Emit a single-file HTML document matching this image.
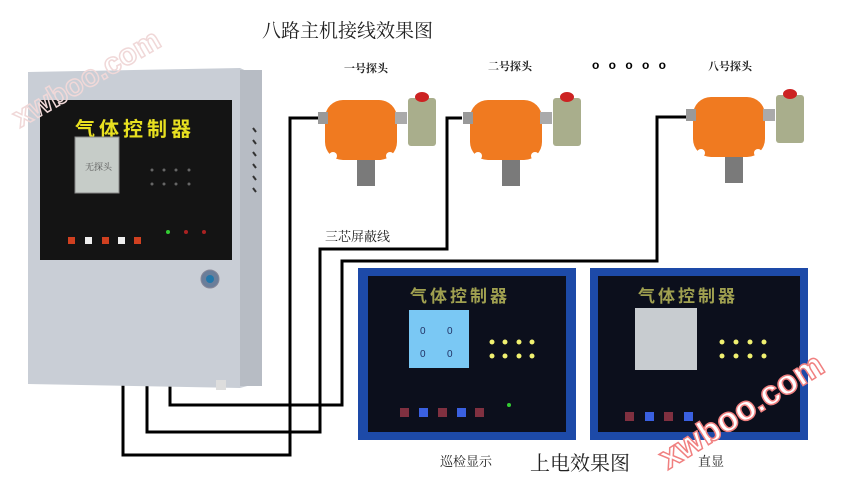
<!DOCTYPE html>
<html><head><meta charset="utf-8"><style>
body{margin:0;width:850px;height:480px;background:#fff;position:relative;overflow:hidden;font-family:"Liberation Sans","Noto Sans CJK SC",sans-serif}
.a{position:absolute}
.t{font-family:"Liberation Serif","Noto Serif CJK SC",serif;color:#222}
</style></head><body>
<div class="a t" style="left:262px;top:16px;font-size:19px">八路主机接线效果图</div>
<div class="a t" style="left:344px;top:60px;font-size:11px;font-weight:bold">一号探头</div>
<div class="a t" style="left:488px;top:58px;font-size:11px;font-weight:bold">二号探头</div>
<div class="a" style="left:592px;top:58px;font-size:12px;font-weight:bold;letter-spacing:3px">o o o o o</div>
<div class="a t" style="left:708px;top:58px;font-size:11px;font-weight:bold">八号探头</div>
<div class="a t" style="left:325px;top:226px;font-size:13px">三芯屏蔽线</div>
<div class="a t" style="left:440px;top:451px;font-size:13px">巡检显示</div>
<div class="a t" style="left:530px;top:447px;font-size:20px">上电效果图</div>
<div class="a t" style="left:698px;top:451px;font-size:13px">直显</div>

<svg class="a" style="left:0;top:0" width="850" height="480">
<g fill="none" stroke="#000" stroke-width="3">
<polyline points="123,380 123,455 290,455 290,118 318,118"/>
<polyline points="147,380 147,432 320,432 320,249 447,249 447,118 462,118"/>
<polyline points="170,380 170,405 342,405 342,261 657,261 657,117 690,117"/>
</g>
<!-- controller -->
<polygon points="28,72 240,68 262,78 262,382 240,388 28,384" fill="#c9ced6"/>
<rect x="240" y="70" width="22" height="316" fill="#b7bcc4"/>
<rect x="40" y="100" width="192" height="160" fill="#141414"/>
<text x="75" y="136" font-size="20" font-weight="bold" fill="#e8e020" letter-spacing="4" font-family="Noto Sans CJK SC">气体控制器</text>
<rect x="75" y="137" width="44" height="56" fill="#c6ccc8" stroke="#888"/>
<text x="85" y="170" font-size="9" fill="#555" font-family="Noto Serif CJK SC">无探头</text>
<g fill="#666"><circle cx="152" cy="170" r="1.5"/><circle cx="164" cy="170" r="1.5"/><circle cx="176" cy="170" r="1.5"/><circle cx="189" cy="170" r="1.5"/><circle cx="152" cy="184" r="1.5"/><circle cx="164" cy="184" r="1.5"/><circle cx="176" cy="184" r="1.5"/><circle cx="189" cy="184" r="1.5"/></g>
<rect x="68" y="237" width="7" height="7" fill="#d04020"/><rect x="85" y="237" width="7" height="7" fill="#eee"/><rect x="102" y="237" width="7" height="7" fill="#d04020"/><rect x="118" y="237" width="7" height="7" fill="#eee"/><rect x="134" y="237" width="7" height="7" fill="#d04020"/>
<circle cx="168" cy="232" r="2" fill="#3c3"/><circle cx="186" cy="232" r="2" fill="#a22"/><circle cx="204" cy="232" r="2" fill="#a22"/>
<circle cx="210" cy="279" r="9" fill="#6a7e9a" stroke="#889"/><circle cx="210" cy="279" r="4" fill="#27a"/>
<g stroke="#333" stroke-width="2"><line x1="253" y1="128" x2="256" y2="132"/><line x1="253" y1="140" x2="256" y2="144"/><line x1="253" y1="152" x2="256" y2="156"/><line x1="253" y1="164" x2="256" y2="168"/><line x1="253" y1="176" x2="256" y2="180"/><line x1="253" y1="188" x2="256" y2="192"/></g>
<rect x="216" y="380" width="10" height="10" fill="#ddd"/>
<!-- detectors -->
<g id="d">
<rect x="325" y="100" width="72" height="60" rx="18" fill="#f07a20"/>
<rect x="318" y="112" width="10" height="12" fill="#999"/>
<rect x="395" y="112" width="12" height="12" fill="#aaa"/>
<rect x="408" y="98" width="28" height="48" rx="3" fill="#a9ae8c"/>
<ellipse cx="422" cy="97" rx="7" ry="5" fill="#c22"/>
<rect x="357" y="160" width="18" height="26" fill="#7a7a7a"/>
<circle cx="333" cy="156" r="4" fill="#fff"/><circle cx="390" cy="156" r="4" fill="#fff"/>
</g>
<use href="#d" x="145" y="0"/>
<use href="#d" x="368" y="-3"/>
<!-- display panels -->
<rect x="358" y="268" width="218" height="172" fill="#1d4aa8"/>
<rect x="368" y="276" width="198" height="156" fill="#0c0f1c"/>
<text x="410" y="302" font-size="17" font-weight="bold" fill="#a0a050" letter-spacing="3" font-family="Noto Sans CJK SC">气体控制器</text>
<rect x="409" y="310" width="60" height="58" fill="#7ac8f4"/>
<text x="420" y="334" font-size="10" fill="#236">0</text><text x="447" y="334" font-size="10" fill="#236">0</text>
<text x="420" y="357" font-size="10" fill="#236">0</text><text x="447" y="357" font-size="10" fill="#236">0</text>
<g fill="#f0f070"><circle cx="492" cy="342" r="2.5"/><circle cx="505" cy="342" r="2.5"/><circle cx="519" cy="342" r="2.5"/><circle cx="532" cy="342" r="2.5"/><circle cx="492" cy="356" r="2.5"/><circle cx="505" cy="356" r="2.5"/><circle cx="519" cy="356" r="2.5"/><circle cx="532" cy="356" r="2.5"/></g>
<g fill="#803040"><rect x="400" y="408" width="9" height="9"/><rect x="438" y="408" width="9" height="9"/><rect x="475" y="408" width="9" height="9"/></g>
<g fill="#3a60e0"><rect x="419" y="408" width="9" height="9"/><rect x="457" y="408" width="9" height="9"/></g>
<circle cx="509" cy="405" r="2" fill="#3c3"/>
<rect x="590" y="268" width="218" height="172" fill="#1d4aa8"/>
<rect x="598" y="276" width="202" height="156" fill="#0c0f1c"/>
<text x="638" y="302" font-size="17" font-weight="bold" fill="#a0a050" letter-spacing="3" font-family="Noto Sans CJK SC">气体控制器</text>
<rect x="635" y="308" width="62" height="62" fill="#c8ccd0"/>
<g fill="#f0f070"><circle cx="722" cy="342" r="2.5"/><circle cx="736" cy="342" r="2.5"/><circle cx="750" cy="342" r="2.5"/><circle cx="764" cy="342" r="2.5"/><circle cx="722" cy="356" r="2.5"/><circle cx="736" cy="356" r="2.5"/><circle cx="750" cy="356" r="2.5"/><circle cx="764" cy="356" r="2.5"/></g>
<g fill="#803040"><rect x="625" y="412" width="9" height="9"/><rect x="664" y="412" width="9" height="9"/></g>
<g fill="#3a60e0"><rect x="645" y="412" width="9" height="9"/><rect x="684" y="412" width="9" height="9"/></g>
<!-- watermarks -->
<text x="20" y="128" font-size="30" font-weight="bold" fill="none" stroke="#f0d8d8" stroke-width="1.5" transform="rotate(-30 20 128)">xwboo.com</text>
<text x="668" y="470" font-size="34" font-weight="bold" fill="#fff" stroke="#f08080" stroke-width="1.5" transform="rotate(-32 668 470)">xwboo.com</text>
</svg>
</body></html>
